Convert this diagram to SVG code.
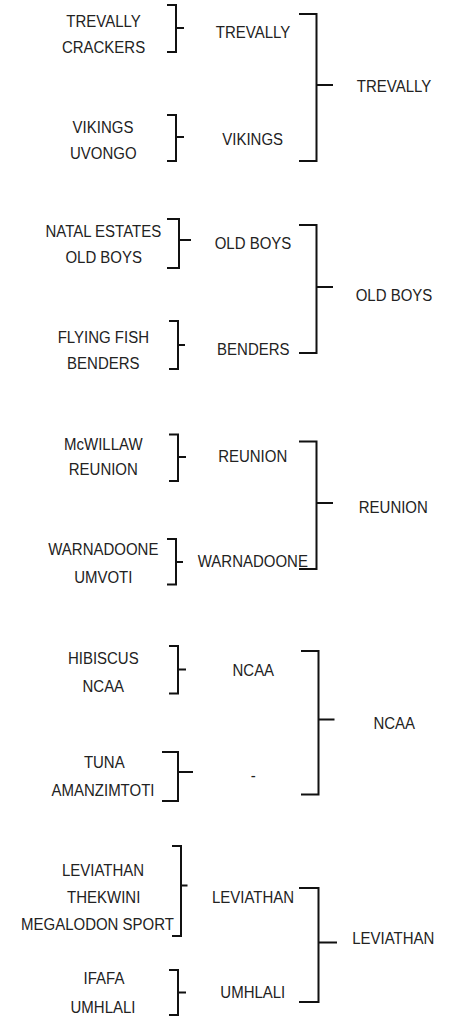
<svg xmlns="http://www.w3.org/2000/svg" width="449" height="1017" viewBox="0 0 449 1017">
<style>
text{font-family:"Liberation Sans",Arial,sans-serif;font-size:15px;fill:#222;text-anchor:middle}
.c path{fill:none;stroke:#111;stroke-width:2}
</style>
<rect width="449" height="1017" fill="#fff"/>
<g class="c" id="connectors">
<path d="M167,5H176V52H167M176,28H184"/>
<path d="M167,115H176V161H167M176,137H184"/>
<path d="M299,14H316.5V161H299M316.5,85H333"/>
<path d="M167,219H179V268H167M179,240H191"/>
<path d="M169,321H178V369H169M178,345H185"/>
<path d="M299,225H316.5V353H299M316.5,287H333"/>
<path d="M169,434.5H178V481H169M178,457H186"/>
<path d="M167,539H176V584.5H167M176,562H183"/>
<path d="M299,441.5H316.5V569H299M316.5,503H333"/>
<path d="M169,646H178V693.5H169M178,669.5H186"/>
<path d="M162,752H178V801H162M178,772H193"/>
<path d="M301,651H318.5V794.5H301M318.5,719.5H334.5"/>
<path d="M172,846H181V936H172M181,885.5H187.5"/>
<path d="M169,970H178V1015H169M178,992.5H186"/>
<path d="M299,888H318.5V1002H299M318.5,942.5H337"/>
</g>
<g id="n-trevally-1"><text transform="translate(103.5,26.5) scale(1,1.12)">TREVALLY</text></g>
<g id="n-crackers"><text transform="translate(103.5,53) scale(1,1.12)">CRACKERS</text></g>
<g id="n-vikings-1"><text transform="translate(103,132.5) scale(1,1.12)">VIKINGS</text></g>
<g id="n-uvongo"><text transform="translate(103.3,159) scale(1,1.12)">UVONGO</text></g>
<g id="n-trevally-2"><text transform="translate(253,38.3) scale(1,1.12)">TREVALLY</text></g>
<g id="n-vikings-2"><text transform="translate(252.7,145) scale(1,1.12)">VIKINGS</text></g>
<g id="n-trevally-3"><text transform="translate(394,92) scale(1,1.12)">TREVALLY</text></g>

<g id="n-natal-estates"><text transform="translate(103.3,236.7) scale(1,1.12)">NATAL ESTATES</text></g>
<g id="n-old-boys-1"><text transform="translate(103.7,262.7) scale(1,1.12)">OLD BOYS</text></g>
<g id="n-flying-fish"><text transform="translate(103.3,342.7) scale(1,1.12)">FLYING FISH</text></g>
<g id="n-benders-1"><text transform="translate(103.3,368.7) scale(1,1.12)">BENDERS</text></g>
<g id="n-old-boys-2"><text transform="translate(253,249) scale(1,1.12)">OLD BOYS</text></g>
<g id="n-benders-2"><text transform="translate(253.3,355) scale(1,1.12)">BENDERS</text></g>
<g id="n-old-boys-3"><text transform="translate(394,301) scale(1,1.12)">OLD BOYS</text></g>

<g id="n-mcwillaw"><text transform="translate(103.3,450) scale(1,1.12)">McWILLAW</text></g>
<g id="n-reunion-1"><text transform="translate(103.3,475.3) scale(1,1.12)">REUNION</text></g>
<g id="n-warnadoone-1"><text transform="translate(103.3,555) scale(1,1.12)">WARNADOONE</text></g>
<g id="n-umvoti"><text transform="translate(103.3,582.7) scale(1,1.12)">UMVOTI</text></g>
<g id="n-reunion-2"><text transform="translate(252.7,462) scale(1,1.12)">REUNION</text></g>
<g id="n-warnadoone-2"><text transform="translate(252.8,567.3) scale(1,1.12)">WARNADOONE</text></g>
<g id="n-reunion-3"><text transform="translate(393.3,513.3) scale(1,1.12)">REUNION</text></g>

<g id="n-hibiscus"><text transform="translate(103.3,664) scale(1,1.12)">HIBISCUS</text></g>
<g id="n-ncaa-1"><text transform="translate(103.3,691.7) scale(1,1.12)">NCAA</text></g>
<g id="n-tuna"><text transform="translate(104.3,768.3) scale(1,1.12)">TUNA</text></g>
<g id="n-amanzimtoti"><text transform="translate(103,796) scale(1,1.12)">AMANZIMTOTI</text></g>
<g id="n-ncaa-2"><text transform="translate(253.3,676) scale(1,1.12)">NCAA</text></g>
<g id="n-dash"><text transform="translate(253.3,780.5) scale(1,1.12)">-</text></g>
<g id="n-ncaa-3"><text transform="translate(394.2,729) scale(1,1.12)">NCAA</text></g>

<g id="n-leviathan-1"><text transform="translate(103,876) scale(1,1.12)">LEVIATHAN</text></g>
<g id="n-thekwini"><text transform="translate(103.7,902.7) scale(1,1.12)">THEKWINI</text></g>
<g id="n-megalodon"><text transform="translate(97.5,930) scale(1,1.12)">MEGALODON SPORT</text></g>
<g id="n-ifafa"><text transform="translate(104,984.3) scale(1,1.12)">IFAFA</text></g>
<g id="n-umhlali-1"><text transform="translate(103,1012.7) scale(1,1.12)">UMHLALI</text></g>
<g id="n-leviathan-2"><text transform="translate(253,902.7) scale(1,1.12)">LEVIATHAN</text></g>
<g id="n-umhlali-2"><text transform="translate(252.8,997.7) scale(1,1.12)">UMHLALI</text></g>
<g id="n-leviathan-3"><text transform="translate(393.3,944) scale(1,1.12)">LEVIATHAN</text></g>
</svg>
